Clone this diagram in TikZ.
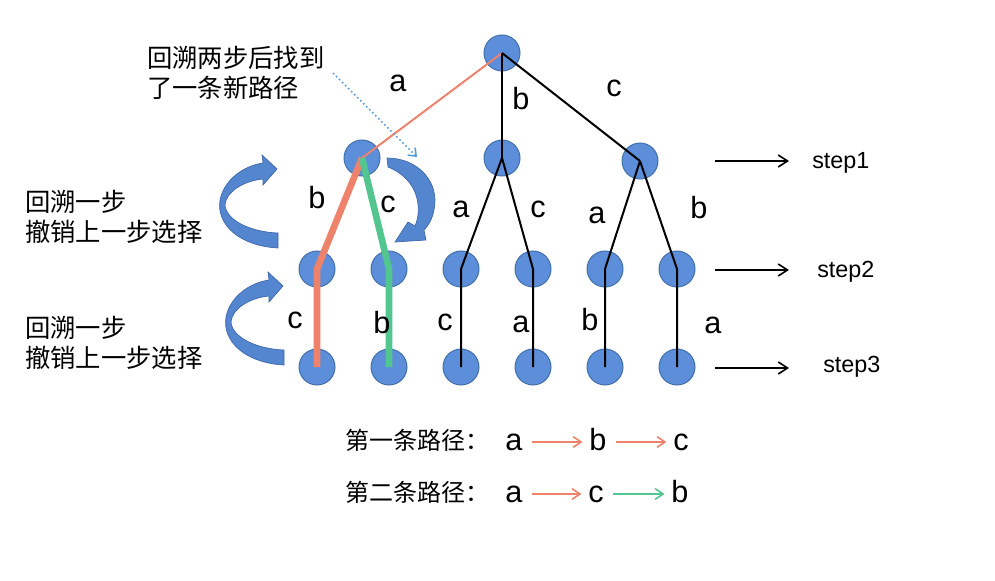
\documentclass[tikz,border=0pt]{standalone}
\usepackage{fontspec}
\setmainfont{Liberation Sans}
\newfontfamily\cjk{Noto Sans CJK SC}
\usetikzlibrary{arrows.meta}

\definecolor{nodeblue}{RGB}{93,142,218}
\definecolor{nodeedge}{RGB}{66,112,170}
\definecolor{salmon}{RGB}{238,130,106}
\definecolor{mint}{RGB}{82,198,142}
\definecolor{dotblue}{RGB}{91,155,213}
\definecolor{curlfill}{RGB}{84,134,208}
\definecolor{curledge}{RGB}{62,102,168}

\tikzstyle{treenode}=[
    circle,
    draw=nodeedge,
    fill=nodeblue,
    line width=0.75pt,
    minimum size=27pt,
    inner sep=0pt,
  ]
\tikzstyle{edge}=[
    line width=1.5pt,
  ]
\tikzstyle{thickpath}=[
    line width=5pt,
  ]
\tikzstyle{lbl}=[
    font=\fontsize{23}{23}\selectfont,
    anchor=base,
    inner sep=0pt,
  ]
\tikzstyle{steplbl}=[
    font=\fontsize{17.5}{17.5}\selectfont,
    anchor=base west,
    inner sep=0pt,
  ]
\tikzstyle{steparrow}=[
    line width=1.2pt,
    -{Straight Barb[length=7pt,width=9pt]},
  ]
\tikzstyle{note}=[
    font=\cjk\fontsize{19}{22.5}\selectfont,
    align=left,
    anchor=west,
    inner sep=0pt,
  ]
\tikzstyle{pathletter}=[
    font=\fontsize{23}{23}\selectfont,
    text height=12pt,
    text depth=0pt,
    inner sep=0pt,
  ]
\tikzstyle{patharrow}=[
    line width=1.2pt,
    shorten <=7pt,
    shorten >=5pt,
    -{Straight Barb[length=6pt,width=8pt]},
  ]
\tikzstyle{curl}=[
    fill=curlfill,
    draw=curledge,
    line width=0.5pt,
  ]

\begin{document}
\begin{tikzpicture}[x=0.75pt, y=-0.75pt]
      \useasboundingbox (0,0) rectangle (995,581);

      % tree
      \node[treenode] (root) at (502,53) {};
      \foreach \x/\y [count=\i] in {362/158, 502/158, 640/161} {%
        \node[treenode] (l1-\i) at (\x,\y) {};
      }
      \foreach \x [count=\i] in {317, 389, 461, 533, 605, 677} {%
        \node[treenode] (l2-\i) at (\x,269) {};
        \node[treenode] (l3-\i) at (\x,367) {};
      }
      \draw[edge, salmon] (root.center) -- (l1-1.center);
      \draw[edge] (root.center) -- (l1-2.center);
      \draw[edge] (root.center) -- (l1-3.center);
      \foreach \p/\c in {2/3, 2/4, 3/5, 3/6} {%
        \draw[edge] (l1-\p.center) -- (l2-\c.center) -- (l3-\c.center);
      }
      \draw[thickpath, salmon] (l1-1.center) -- (l2-1.center) -- (l3-1.center);
      \draw[thickpath, mint] (l1-1.center) -- (l2-2.center) -- (l3-2.center);

      % choices
      \foreach \t/\x/\y [count=\k] in {a/398/92, b/521/110, c/614/97,
          b/317/208, c/388/212, a/461/217, c/538/217, a/597/223, b/699/218,
          c/295/328, b/382/333, c/445/330, a/521/332, b/590/330, a/713/333} {%
        \node[lbl] (e\k) at (\x,\y) {\t};
      }

      % levels
      \foreach \i/\y/\tx/\ty in {1/161/812/169, 2/270/817/277, 3/368/823/372} {%
        \coordinate (sa\i) at (715,\y);
        \coordinate (sb\i) at (789,\y);
        \draw[steparrow] (sa\i) -- (sb\i);
        \node[steplbl] (step\i) at (\tx,\ty) {step\i};
      }

      % backtracking
      \foreach \dx/\dy in {0/0, 6/117} {%
        \filldraw[curl, shift={(\dx,\dy)}] (278,248)
          .. controls (240,246) and (216,225) .. (220,200)
          .. controls (224,180) and (243,166) .. (263,163)
          -- (262,155) -- (277,169) -- (263,185) -- (263,179)
          .. controls (243,181) and (226,192) .. (225,205)
          .. controls (226,220) and (250,232) .. (278,233) -- cycle;
      }
      \filldraw[curl] (387,158)
        .. controls (418,158) and (440,182) .. (434,210)
        .. controls (432,220) and (428,226) .. (424,230)
        -- (426,240) -- (395,242) -- (408,222) -- (415,226)
        .. controls (422,210) and (420,180) .. (388,167) -- cycle;

      \node[note] (back2) at (147,73) {回溯两步后找到\\了一条新路径};
      \coordinate (da) at (333,73);
      \coordinate (db) at (417,157);
      \draw[dotblue, line width=1.2pt, dotted,
        -{Straight Barb[length=5pt,width=8pt]}] (da) -- (db);
      \node[note] (back1a) at (25,217) {回溯一步\\撤销上一步选择};
      \node[note] (back1b) at (25,343) {回溯一步\\撤销上一步选择};

      % paths found
      \node[note, font=\cjk\fontsize{18}{18}\selectfont] (path1) at (345,440) {第一条路径：};
      \node[note, font=\cjk\fontsize{18}{18}\selectfont] (path2) at (345,492) {第二条路径：};
      \node[pathletter] (p1a) at (514,442) {a};
      \node[pathletter] (p1b) at (598,442) {b};
      \node[pathletter] (p1c) at (681,442) {c};
      \node[pathletter] (p2a) at (514,494) {a};
      \node[pathletter] (p2c) at (596,494) {c};
      \node[pathletter] (p2b) at (680,494) {b};
      \draw[patharrow, salmon] (p1a) -- (p1b);
      \draw[patharrow, salmon] (p1b) -- (p1c);
      \draw[patharrow, salmon] (p2a) -- (p2c);
      \draw[patharrow, mint] (p2c) -- (p2b);
    \end{tikzpicture}
\end{document}
